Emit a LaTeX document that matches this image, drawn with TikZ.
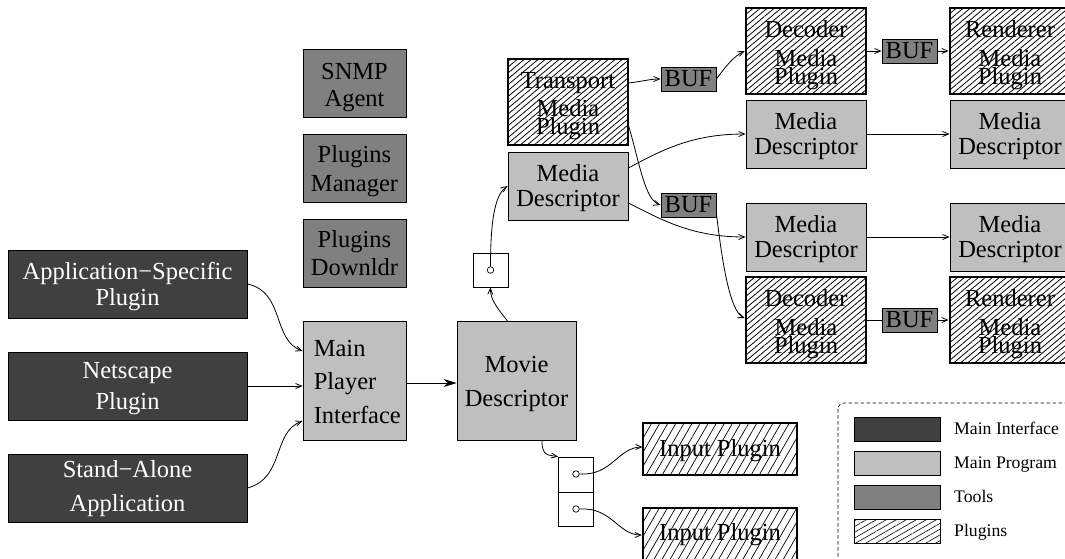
\documentclass[tikz,border=0pt]{standalone}
\usepackage{fontspec}
\setmainfont{Liberation Serif}
\usetikzlibrary{arrows.meta,patterns.meta}

\definecolor{ifacecol}{RGB}{64,64,64}
\definecolor{progcol}{RGB}{191,191,191}
\definecolor{toolcol}{RGB}{128,128,128}

\tikzset{
  box/.style={draw=black, line width=0.8pt, inner sep=0pt, rectangle},
  iface/.style={box, fill=ifacecol},
  prog/.style={box, fill=progcol},
  tool/.style={box, fill=toolcol},
  plug/.style={box, line width=2.6pt,
    pattern={Lines[angle=40,distance=4.5pt,line width=0.8pt]}},
  inplug/.style={box, line width=2.2pt,
    pattern={Lines[angle=60,distance=7pt,line width=0.7pt]}},
  bigbox/.style={minimum width=120pt, minimum height=68pt},
  tallbox/.style={minimum width=120pt, minimum height=86pt},
  buf/.style={tool, minimum width=55pt, minimum height=24pt,
    font=\fontsize{24.5}{24.5}\selectfont},
  slot/.style={draw=black, line width=0.7pt, minimum width=35pt, minimum height=34pt, inner sep=0pt},
  dot/.style={circle, draw=black, line width=0.7pt, minimum size=6.5pt, inner sep=0pt},
  txt/.style={inner sep=0pt, anchor=base, font=\fontsize{24.5}{24.5}\selectfont},
  wtxt/.style={txt, text=white},
  legtxt/.style={inner sep=0pt, anchor=base west, font=\fontsize{17.7}{17.7}\selectfont},
  arr/.style={line width=0.8pt, -{Straight Barb[length=6pt,width=5pt,line width=0.8pt]}},
  bigarr/.style={line width=0.9pt, -{Stealth[length=13pt,width=8pt]}},
  link/.style={line width=0.8pt}
}

% one text line inside a box: [style] box, line id, depth of baseline below top edge, text
\newcommand\bxline[5][txt]{\node[#1] (#2-#3) at ([yshift=-#4pt]#2.north) {#5};}

\begin{document}
\begin{tikzpicture}[x=1pt, y=-1pt]
\useasboundingbox (0,0) rectangle (1065,558);
\clip (0,0) rectangle (1065,558);

% ---- front ends ----
\node[iface, minimum width=239pt, minimum height=68pt] (app) at (127.5,284) {};
\bxline[wtxt]{app}{1}{30}{Application−Specific}
\bxline[wtxt]{app}{2}{56}{Plugin}
\node[iface, minimum width=239pt, minimum height=68pt] (net) at (127.5,386) {};
\bxline[wtxt]{net}{1}{27}{Netscape}
\bxline[wtxt]{net}{2}{58}{Plugin}
\node[iface, minimum width=239pt, minimum height=68pt] (sa) at (127.5,488) {};
\bxline[wtxt]{sa}{1}{24}{Stand−Alone}
\bxline[wtxt]{sa}{2}{58}{Application}

% ---- main program ----
\node[prog, minimum width=103pt, minimum height=119pt] (mpi) at (354.5,381) {};
\node[txt, anchor=base west] (mpi-1) at ([xshift=11pt,yshift=-35pt]mpi.north west) {Main};
\node[txt, anchor=base west] (mpi-2) at ([xshift=11pt,yshift=-68pt]mpi.north west) {Player};
\node[txt, anchor=base west] (mpi-3) at ([xshift=11pt,yshift=-102pt]mpi.north west) {Interface};

\node[prog, minimum width=119pt, minimum height=119pt] (movie) at (516.5,381) {};
\bxline{movie}{1}{51}{Movie}
\bxline{movie}{2}{85}{Descriptor}

% ---- tools ----
\node[tool, minimum width=103pt, minimum height=68pt] (snmp) at (354.5,83) {};
\bxline{snmp}{1}{31}{SNMP}
\bxline{snmp}{2}{58}{Agent}
\node[tool, minimum width=103pt, minimum height=68pt] (pmgr) at (354.5,168) {};
\bxline{pmgr}{1}{29}{Plugins}
\bxline{pmgr}{2}{58}{Manager}
\node[tool, minimum width=103pt, minimum height=68pt] (pdl) at (354.5,253) {};
\bxline{pdl}{1}{29}{Plugins}
\bxline{pdl}{2}{57}{Downldr}

% ---- media slots ----
\node[slot] (sb) at (490.5,270) {};
\node[dot] (sc) at (490.5,270) {};
\node[slot, minimum height=35pt] (db1) at (576,474.5) {};
\node[slot] (db2) at (576,509) {};
\node[dot] (c1) at (576,474) {};
\node[dot] (c2) at (576,509) {};

% ---- media pipeline ----
\node[plug, tallbox] (tr) at (568,102) {};
\bxline{tr}{1}{30}{Transport}
\bxline{tr}{2}{58}{Media}
\bxline{tr}{3}{76}{Plugin}
\node[prog, bigbox] (md0) at (568,186) {};
\bxline{md0}{1}{30}{Media}
\bxline{md0}{2}{55}{Descriptor}

\node[buf] (buf1) at (688.5,79) {BUF};
\node[buf] (buf2) at (688.5,205) {BUF};

\node[plug, tallbox] (dec1) at (806,51) {};
\bxline{dec1}{1}{31}{Decoder}
\bxline{dec1}{2}{60}{Media}
\bxline{dec1}{3}{78}{Plugin}
\node[buf] (buf3) at (909.5,51) {BUF};
\node[plug, tallbox] (ren1) at (1010,51) {};
\bxline{ren1}{1}{31}{Renderer}
\bxline{ren1}{2}{60}{Media}
\bxline{ren1}{3}{78}{Plugin}

\node[prog, bigbox] (md2) at (806,134) {};
\bxline{md2}{1}{30}{Media}
\bxline{md2}{2}{55}{Descriptor}
\node[prog, bigbox] (mdr2) at (1010,134) {};
\bxline{mdr2}{1}{30}{Media}
\bxline{mdr2}{2}{55}{Descriptor}

\node[prog, bigbox] (md3) at (806,237) {};
\bxline{md3}{1}{30}{Media}
\bxline{md3}{2}{55}{Descriptor}
\node[prog, bigbox] (mdr3) at (1010,237) {};
\bxline{mdr3}{1}{30}{Media}
\bxline{mdr3}{2}{55}{Descriptor}

\node[plug, tallbox] (dec2) at (806,320) {};
\bxline{dec2}{1}{31}{Decoder}
\bxline{dec2}{2}{60}{Media}
\bxline{dec2}{3}{78}{Plugin}
\node[buf] (buf4) at (909.5,320) {BUF};
\node[plug, tallbox] (ren2) at (1010,320) {};
\bxline{ren2}{1}{31}{Renderer}
\bxline{ren2}{2}{60}{Media}
\bxline{ren2}{3}{78}{Plugin}

% ---- input plugins ----
\node[inplug, minimum width=154pt, minimum height=52pt] (in1) at (720,449) {};
\bxline{in1}{1}{34}{Input Plugin}
\node[inplug, minimum width=154pt, minimum height=52pt] (in2) at (720,534) {};
\bxline{in2}{1}{34}{Input Plugin}

% ---- connectors ----
\draw[arr] (app.east) .. controls (285,292) and (272,340) .. ([yshift=30pt]mpi.west);
\draw[arr] (net.east) -- (net.east -| mpi.west);
\draw[arr] (sa.east) .. controls (285,478) and (272,432) .. ([yshift=-40pt]mpi.west);
\draw[bigarr] ([yshift=-2pt]mpi.east) -- ([yshift=-2pt]movie.west);

\draw[arr] ([xshift=-9pt]movie.north) .. controls (499,310) and (490,300) .. (sb.south);
\draw[arr] (sc.north) .. controls (490.5,215) and (496,194) .. (md0.west);
\draw[arr] ([xshift=25.5pt]movie.south) .. controls (542,456) and (548,455) .. (db1.north west);
\draw[arr] (c1.east) .. controls (612,476) and (618,447) .. ([yshift=2pt]in1.west);
\draw[arr] (c2.east) .. controls (612,507) and (618,535) .. ([yshift=-1pt]in2.west);

\draw[arr] ([yshift=19pt]tr.east) .. controls (645,81) and (650,79) .. (buf1.west);
\draw[arr] ([yshift=-23pt]tr.east) .. controls (640,165) and (645,200) .. (buf2.west);
\draw[arr] (buf1.east) .. controls (726,66) and (734,56) .. (dec1.west);
\draw[arr] (dec1.east) -- (buf3.west);
\draw[arr] (buf3.east) -- (ren1.west);

\draw[arr] ([yshift=18pt]md0.east) .. controls (662,150) and (692,134) .. (md2.west);
\draw[arr] ([yshift=-17pt]md0.east) .. controls (662,220) and (692,237) .. (md3.west);
\draw[arr] (md2.east) -- (mdr2.west);
\draw[arr] (md3.east) -- (mdr3.west);

\draw[arr] ([yshift=-8pt]buf2.east) .. controls (722,262) and (730,312) .. ([yshift=2pt]dec2.west);
\draw[link] (dec2.east) -- (buf4.west);
\draw[arr] (buf4.east) -- (ren2.west);

% ---- legend ----
\draw[line width=0.7pt, dash pattern=on 3.5pt off 2.5pt, rounded corners=6pt]
  (838,403) rectangle (1090,585);
\node[iface, minimum width=86pt, minimum height=24pt] (lg1) at (897,429) {};
\node[prog, minimum width=86pt, minimum height=24pt] (lg2) at (897,463) {};
\node[tool, minimum width=86pt, minimum height=24pt] (lg3) at (897,497) {};
\node[box, minimum width=86pt, minimum height=24pt,
  pattern={Lines[angle=30,distance=5pt,line width=0.6pt]}] (lg4) at (897,531) {};
\node[legtxt] (lg1-t) at (954,434) {Main Interface};
\node[legtxt] (lg2-t) at (954,468) {Main Program};
\node[legtxt] (lg3-t) at (954,502) {Tools};
\node[legtxt] (lg4-t) at (954,536) {Plugins};
\end{tikzpicture}
\end{document}
